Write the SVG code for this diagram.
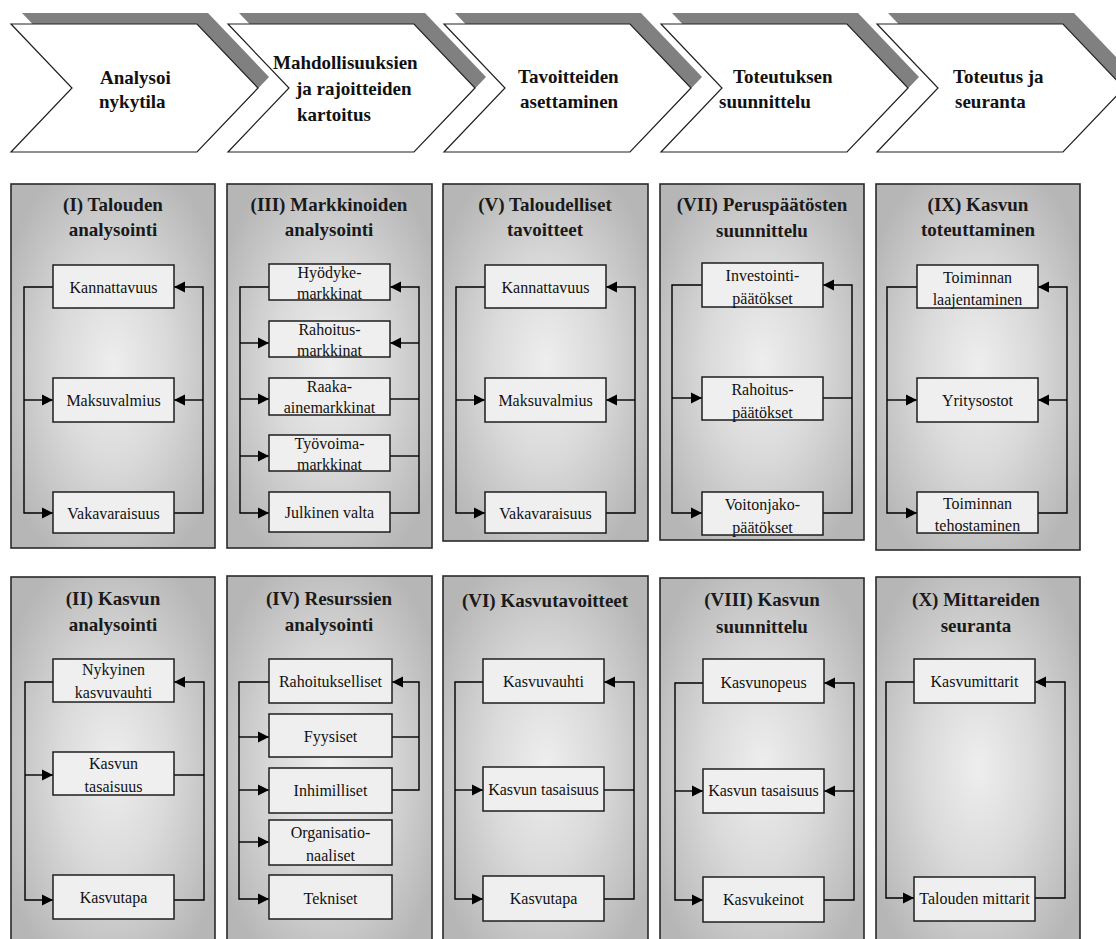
<svg xmlns="http://www.w3.org/2000/svg" xmlns:xlink="http://www.w3.org/1999/xlink" width="1116" height="939" viewBox="0 0 1116 939">
<defs>
<radialGradient id="pg" cx="0.5" cy="0.5" r="0.6">
<stop offset="0" stop-color="#eeeeee"/>
<stop offset="0.45" stop-color="#dadada"/>
<stop offset="1" stop-color="#b6b6b6"/>
</radialGradient>
<path id="chev" d="M0,24 H186 L247,88 L186,152 H0 L61,88 Z"/>
<marker id="ah" markerUnits="userSpaceOnUse" markerWidth="12" markerHeight="12" refX="11" refY="6" orient="auto">
<path d="M0,0.5 L11,6 L0,11.5 Z" fill="#000"/>
</marker>
</defs>
<style>
.shadow{fill:#808080;stroke:none}
.chev{fill:#fff;stroke:#222;stroke-width:1.2}
.ct{font-family:'Liberation Serif','Times New Roman','DejaVu Serif',serif;font-size:19px;font-weight:bold;fill:#111}
.panel{fill:url(#pg);stroke:#2a2a2a;stroke-width:1.6}
.ht{font-family:'Liberation Serif','Times New Roman','DejaVu Serif',serif;font-size:19px;font-weight:bold;fill:#1a1a1a;text-anchor:middle}
.box{fill:#efefef;stroke:#1e1e1e;stroke-width:1.5}
.bt{font-family:'Liberation Serif','Times New Roman','DejaVu Serif',serif;font-size:16px;fill:#111;text-anchor:middle}
.c{fill:none;stroke:#000;stroke-width:1.4}
.a{fill:none;stroke:#000;stroke-width:1.4;marker-end:url(#ah)}
</style>
<rect width="1116" height="939" fill="#fff"/>

<g id="chevron-1">
<use xlink:href="#chev" class="shadow" x="22" y="-11"/>
<use xlink:href="#chev" class="chev" x="11" y="0"/>
<text class="ct" x="100" y="84">Analysoi</text>
<text class="ct" x="99" y="108">nykytila</text>
</g>
<g id="chevron-2">
<use xlink:href="#chev" class="shadow" x="239" y="-11"/>
<use xlink:href="#chev" class="chev" x="228" y="0"/>
<text class="ct" x="273" y="69">Mahdollisuuksien</text>
<text class="ct" x="296" y="95">ja rajoitteiden</text>
<text class="ct" x="297" y="121">kartoitus</text>
</g>
<g id="chevron-3">
<use xlink:href="#chev" class="shadow" x="455" y="-11"/>
<use xlink:href="#chev" class="chev" x="444" y="0"/>
<text class="ct" x="518" y="83">Tavoitteiden</text>
<text class="ct" x="520" y="108">asettaminen</text>
</g>
<g id="chevron-4">
<use xlink:href="#chev" class="shadow" x="672" y="-11"/>
<use xlink:href="#chev" class="chev" x="661" y="0"/>
<text class="ct" x="733" y="83">Toteutuksen</text>
<text class="ct" x="719" y="108">suunnittelu</text>
</g>
<g id="chevron-5">
<use xlink:href="#chev" class="shadow" x="888" y="-11"/>
<use xlink:href="#chev" class="chev" x="877" y="0"/>
<text class="ct" x="953" y="83">Toteutus ja</text>
<text class="ct" x="955" y="108">seuranta</text>
</g>

<!-- Row 1 panels -->
<g id="panel-I">
<rect class="panel" x="11" y="184" width="204" height="364"/>
<text class="ht" x="113" y="211">(I) Talouden</text>
<text class="ht" x="113" y="236">analysointi</text>
</g>
<g id="panel-III">
<rect class="panel" x="227" y="184" width="205" height="364"/>
<text class="ht" x="329" y="211">(III) Markkinoiden</text>
<text class="ht" x="329" y="236">analysointi</text>
</g>
<g id="panel-V">
<rect class="panel" x="443" y="184" width="205" height="357"/>
<text class="ht" x="545" y="211">(V) Taloudelliset</text>
<text class="ht" x="545" y="236">tavoitteet</text>
</g>
<g id="panel-VII">
<rect class="panel" x="660" y="184" width="204" height="356"/>
<text class="ht" x="762" y="211">(VII) Peruspäätösten</text>
<text class="ht" x="762" y="237">suunnittelu</text>
</g>
<g id="panel-IX">
<rect class="panel" x="876" y="184" width="204" height="366"/>
<text class="ht" x="978" y="211">(IX) Kasvun</text>
<text class="ht" x="978" y="236">toteuttaminen</text>
</g>

<!-- Row 2 panels -->
<g id="panel-II">
<rect class="panel" x="11" y="577" width="204" height="380"/>
<text class="ht" x="113" y="605">(II) Kasvun</text>
<text class="ht" x="113" y="631">analysointi</text>
</g>
<g id="panel-IV">
<rect class="panel" x="227" y="576" width="205" height="380"/>
<text class="ht" x="329" y="605">(IV) Resurssien</text>
<text class="ht" x="329" y="631">analysointi</text>
</g>
<g id="panel-VI">
<rect class="panel" x="443" y="576" width="205" height="380"/>
<text class="ht" x="545" y="607">(VI) Kasvutavoitteet</text>
</g>
<g id="panel-VIII">
<rect class="panel" x="660" y="578" width="204" height="380"/>
<text class="ht" x="762" y="606">(VIII) Kasvun</text>
<text class="ht" x="762" y="633">suunnittelu</text>
</g>
<g id="panel-X">
<rect class="panel" x="876" y="577" width="204" height="380"/>
<text class="ht" x="976" y="606">(X) Mittareiden</text>
<text class="ht" x="976" y="632">seuranta</text>
</g>

<!-- Connectors -->
<g id="connectors">
<path class="a" d="M53,287 H24 V513 H53"/>
<path class="a" d="M24,400 H53"/>
<path class="a" d="M174,513 H203 V287 H174"/>
<path class="a" d="M203,400 H174"/>
<path class="a" d="M269,287 H240 V513 H269"/>
<path class="a" d="M240,343 H269"/>
<path class="a" d="M240,399 H269"/>
<path class="a" d="M240,456 H269"/>
<path class="a" d="M390,513 H419 V287 H390"/>
<path class="a" d="M419,343 H390"/>
<path class="c" d="M390,399 H419"/>
<path class="c" d="M390,456 H419"/>
<path class="a" d="M485,287 H456 V513 H485"/>
<path class="a" d="M456,400 H485"/>
<path class="a" d="M606,513 H635 V287 H606"/>
<path class="a" d="M635,400 H606"/>
<path class="a" d="M702,285 H672 V513 H702"/>
<path class="a" d="M672,398 H702"/>
<path class="a" d="M823,513 H852 V285 H823"/>
<path class="c" d="M823,398 H852"/>
<path class="a" d="M917,287 H887 V513 H917"/>
<path class="a" d="M887,400 H917"/>
<path class="a" d="M1038,513 H1067 V287 H1038"/>
<path class="a" d="M1067,400 H1038"/>
<path class="a" d="M53,682 H25 V900 H53"/>
<path class="a" d="M25,775 H53"/>
<path class="a" d="M174,900 H204 V682 H174"/>
<path class="c" d="M174,775 H204"/>
<path class="a" d="M269,682 H239 V899 H269"/>
<path class="a" d="M239,737 H269"/>
<path class="a" d="M239,790 H269"/>
<path class="a" d="M239,842 H269"/>
<path class="a" d="M392,790 H419 V682 H392"/>
<path class="c" d="M392,737 H419"/>
<path class="a" d="M483,682 H455 V899 H483"/>
<path class="a" d="M455,790 H483"/>
<path class="a" d="M604,899 H634 V682 H604"/>
<path class="c" d="M604,790 H634"/>
<path class="a" d="M703,683 H675 V900 H703"/>
<path class="a" d="M675,791 H703"/>
<path class="a" d="M824,900 H854 V683 H824"/>
<path class="a" d="M854,791 H824"/>
<path class="a" d="M914,682 H886 V898 H914"/>
<path class="a" d="M1035,898 H1065 V682 H1035"/>
</g>

<!-- Boxes row 1 -->
<g id="I-kannattavuus"><rect class="box" x="53" y="265" width="121" height="43"/><text class="bt" x="113.5" y="293">Kannattavuus</text></g>
<g id="I-maksuvalmius"><rect class="box" x="53" y="378" width="121" height="44"/><text class="bt" x="113.5" y="406">Maksuvalmius</text></g>
<g id="I-vakavaraisuus"><rect class="box" x="53" y="492" width="121" height="41"/><text class="bt" x="113.5" y="519">Vakavaraisuus</text></g>

<g id="III-hyodykemarkkinat"><rect class="box" x="269" y="264" width="121" height="36"/><text class="bt" x="329.5" y="278">Hyödyke-</text><text class="bt" x="329.5" y="299">markkinat</text></g>
<g id="III-rahoitusmarkkinat"><rect class="box" x="269" y="321" width="121" height="36"/><text class="bt" x="329.5" y="335">Rahoitus-</text><text class="bt" x="329.5" y="356">markkinat</text></g>
<g id="III-raaka-ainemarkkinat"><rect class="box" x="269" y="378" width="121" height="37"/><text class="bt" x="329.5" y="392">Raaka-</text><text class="bt" x="329.5" y="413">ainemarkkinat</text></g>
<g id="III-tyovoimamarkkinat"><rect class="box" x="269" y="435" width="121" height="36"/><text class="bt" x="329.5" y="449">Työvoima-</text><text class="bt" x="329.5" y="470">markkinat</text></g>
<g id="III-julkinen-valta"><rect class="box" x="269" y="492" width="121" height="40"/><text class="bt" x="329.5" y="518">Julkinen valta</text></g>

<g id="V-kannattavuus"><rect class="box" x="485" y="265" width="121" height="43"/><text class="bt" x="545.5" y="293">Kannattavuus</text></g>
<g id="V-maksuvalmius"><rect class="box" x="485" y="378" width="121" height="44"/><text class="bt" x="545.5" y="406">Maksuvalmius</text></g>
<g id="V-vakavaraisuus"><rect class="box" x="485" y="492" width="121" height="41"/><text class="bt" x="545.5" y="519">Vakavaraisuus</text></g>

<g id="VII-investointipaatokset"><rect class="box" x="702" y="263" width="121" height="44"/><text class="bt" x="762.5" y="281">Investointi-</text><text class="bt" x="762.5" y="304">päätökset</text></g>
<g id="VII-rahoituspaatokset"><rect class="box" x="702" y="377" width="121" height="43"/><text class="bt" x="762.5" y="395">Rahoitus-</text><text class="bt" x="762.5" y="418">päätökset</text></g>
<g id="VII-voitonjakopaatokset"><rect class="box" x="702" y="492" width="121" height="43"/><text class="bt" x="762.5" y="510">Voitonjako-</text><text class="bt" x="762.5" y="533">päätökset</text></g>

<g id="IX-toiminnan-laajentaminen"><rect class="box" x="917" y="265" width="121" height="43"/><text class="bt" x="977.5" y="283">Toiminnan</text><text class="bt" x="977.5" y="305">laajentaminen</text></g>
<g id="IX-yritysostot"><rect class="box" x="917" y="378" width="121" height="44"/><text class="bt" x="977.5" y="406">Yritysostot</text></g>
<g id="IX-toiminnan-tehostaminen"><rect class="box" x="917" y="492" width="121" height="41"/><text class="bt" x="977.5" y="509">Toiminnan</text><text class="bt" x="977.5" y="531">tehostaminen</text></g>

<!-- Boxes row 2 -->
<g id="II-nykyinen-kasvuvauhti"><rect class="box" x="53" y="659" width="121" height="43"/><text class="bt" x="113.5" y="675">Nykyinen</text><text class="bt" x="113.5" y="698">kasvuvauhti</text></g>
<g id="II-kasvun-tasaisuus"><rect class="box" x="53" y="752" width="121" height="43"/><text class="bt" x="113.5" y="769">Kasvun</text><text class="bt" x="113.5" y="792">tasaisuus</text></g>
<g id="II-kasvutapa"><rect class="box" x="53" y="875" width="121" height="44"/><text class="bt" x="113.5" y="903">Kasvutapa</text></g>

<g id="IV-rahoitukselliset"><rect class="box" x="269" y="659" width="123" height="44"/><text class="bt" x="330.5" y="687">Rahoitukselliset</text></g>
<g id="IV-fyysiset"><rect class="box" x="269" y="714" width="123" height="43"/><text class="bt" x="330.5" y="742">Fyysiset</text></g>
<g id="IV-inhimilliset"><rect class="box" x="269" y="768" width="123" height="45"/><text class="bt" x="330.5" y="796">Inhimilliset</text></g>
<g id="IV-organisationaaliset"><rect class="box" x="269" y="820" width="123" height="45"/><text class="bt" x="330.5" y="838">Organisatio-</text><text class="bt" x="330.5" y="861">naaliset</text></g>
<g id="IV-tekniset"><rect class="box" x="269" y="875" width="123" height="44"/><text class="bt" x="330.5" y="904">Tekniset</text></g>

<g id="VI-kasvuvauhti"><rect class="box" x="483" y="659" width="121" height="44"/><text class="bt" x="543.5" y="687">Kasvuvauhti</text></g>
<g id="VI-kasvun-tasaisuus"><rect class="box" x="483" y="767" width="121" height="44"/><text class="bt" x="543.5" y="795">Kasvun tasaisuus</text></g>
<g id="VI-kasvutapa"><rect class="box" x="483" y="876" width="121" height="45"/><text class="bt" x="543.5" y="904">Kasvutapa</text></g>

<g id="VIII-kasvunopeus"><rect class="box" x="703" y="659" width="121" height="44"/><text class="bt" x="763.5" y="688">Kasvunopeus</text></g>
<g id="VIII-kasvun-tasaisuus"><rect class="box" x="703" y="769" width="121" height="44"/><text class="bt" x="763.5" y="796">Kasvun tasaisuus</text></g>
<g id="VIII-kasvukeinot"><rect class="box" x="703" y="877" width="121" height="45"/><text class="bt" x="763.5" y="905">Kasvukeinot</text></g>

<g id="X-kasvumittarit"><rect class="box" x="914" y="659" width="121" height="44"/><text class="bt" x="974.5" y="687">Kasvumittarit</text></g>
<g id="X-talouden-mittarit"><rect class="box" x="914" y="877" width="121" height="44"/><text class="bt" x="974.5" y="904">Talouden mittarit</text></g>
</svg>
